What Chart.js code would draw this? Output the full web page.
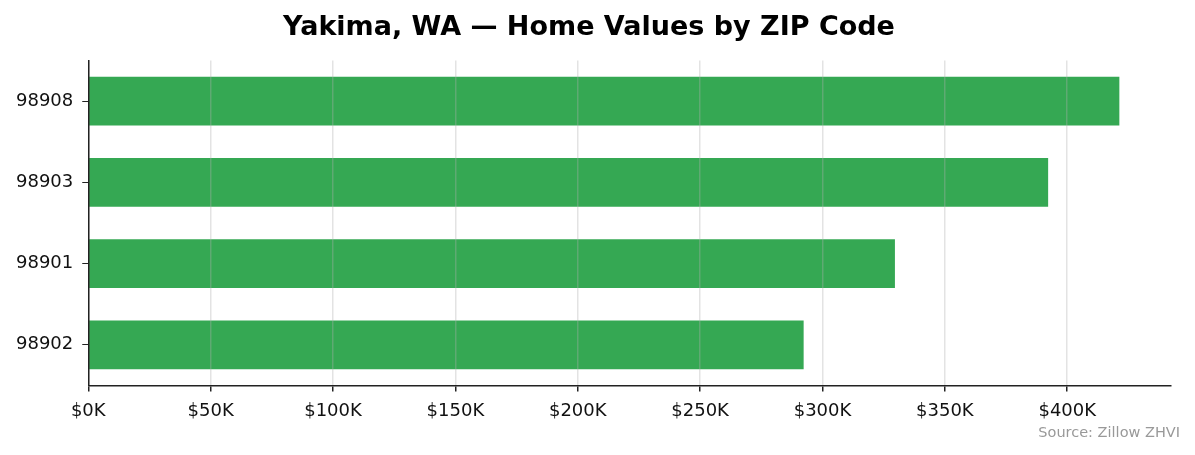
<!DOCTYPE html>
<html>
<head>
<meta charset="utf-8">
<script src="https://cdn.jsdelivr.net/npm/chart.js@4.4.1/dist/chart.umd.min.js"></script>
<style>
  html, body { margin: 0; padding: 0; background: #fff; }
  #wrap { width: 1195px; height: 455px; }
</style>
</head>
<body>
<div id="wrap"><canvas id="zipChart"></canvas></div>
<script>
const zipCodes = ['98908', '98903', '98901', '98902']
const homeValues = [421300, 392200, 329600, 292300]
const xMax = 442400
const xTickValues = [0, 50000, 100000, 150000, 200000, 250000, 300000, 350000, 400000]

const sourceNote = {
  id: 'sourceNote',
  afterDraw(chart) {
    const ctx = chart.ctx
    ctx.save()
    ctx.font = '14.5px "DejaVu Sans"'
    ctx.fillStyle = '#999999'
    ctx.textAlign = 'right'
    ctx.textBaseline = 'alphabetic'
    ctx.fillText('Source: Zillow ZHVI', chart.width - 15, 437)
    ctx.restore()
  }
}

Chart.defaults.font.family = '"DejaVu Sans", sans-serif'
Chart.defaults.color = '#111'

new Chart(document.getElementById('zipChart'), {
  type: 'bar',
  data: {
    labels: zipCodes,
    datasets: [{
      data: homeValues,
      backgroundColor: '#35a853',
      borderWidth: 0,
      barPercentage: 0.6,
      categoryPercentage: 1.0
    }]
  },
  options: {
    indexAxis: 'y',
    responsive: true,
    maintainAspectRatio: false,
    animation: false,
    layout: { padding: { left: 7, right: 24, top: 0, bottom: 24 } },
    plugins: {
      legend: { display: false },
      tooltip: { enabled: false },
      title: {
        display: true,
        text: 'Yakima, WA — Home Values by ZIP Code',
        font: { size: 27, weight: 'bold' },
        color: '#000',
        padding: { top: 12, bottom: 16 }
      }
    },
    scales: {
      x: {
        min: 0,
        max: xMax,
        afterBuildTicks(scale) {
          scale.ticks = xTickValues.map(v => ({ value: v }))
        },
        ticks: {
          autoSkip: false,
          font: { size: 18 },
          color: '#111',
          padding: 9,
          callback: v => '$' + (v / 1000) + 'K'
        },
        grid: {
          z: 1,
          color: 'rgba(176,176,176,0.35)',
          lineWidth: 1.5,
          tickColor: '#222',
          tickLength: 6
        },
        border: { display: true, color: '#222', width: 1.5, z: 2 }
      },
      y: {
        ticks: {
          font: { size: 18 },
          color: '#111',
          padding: 9
        },
        grid: {
          offset: false,
          drawOnChartArea: false,
          tickColor: '#222',
          tickLength: 6
        },
        border: { display: true, color: '#222', width: 1.5, z: 2 }
      }
    }
  },
  plugins: [sourceNote]
})
</script>
</body>
</html>
